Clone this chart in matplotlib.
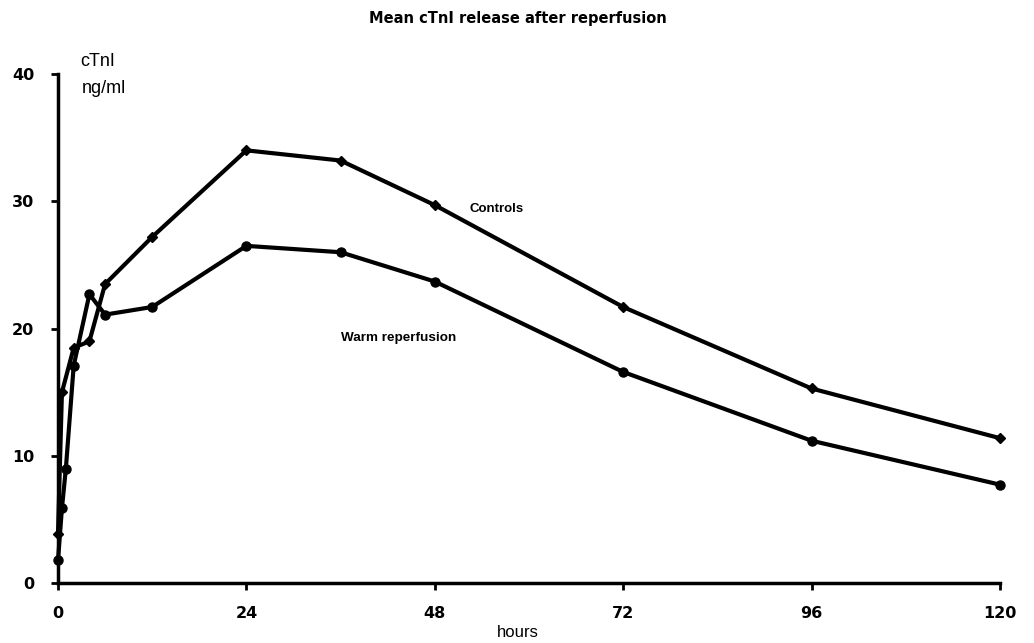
import matplotlib
matplotlib.use("Agg")
import matplotlib.pyplot as plt

# Data (hours, cTnI ng/ml)
control_hours = [0, 0.5, 2, 4, 6, 12, 24, 36, 48, 72, 96, 120]
control_vals = [3.9, 15.0, 18.5, 19.0, 23.5, 27.2, 34.0, 33.2, 29.7, 21.7, 15.3, 11.4]
warm_hours = [0, 0.5, 1, 2, 4, 6, 12, 24, 36, 48, 72, 96, 120]
warm_vals = [1.8, 5.9, 9.0, 17.1, 22.7, 21.1, 21.7, 26.5, 26.0, 23.7, 16.6, 11.2, 7.75]
x_ticks = [0, 24, 48, 72, 96, 120]
y_ticks = [0, 10, 20, 30, 40]

plt.rcParams['font.family'] = ['Liberation Sans', 'DejaVu Sans']

fig = plt.figure(figsize=(10.34, 6.43), dpi=100)
ax = fig.add_axes([0.0561, 0.0928, 0.9109, 0.7922])

ax.plot(control_hours, control_vals, color='black', lw=3.0, marker='D',
        markersize=5.5, clip_on=False, zorder=3)
ax.plot(warm_hours, warm_vals, color='black', lw=3.0, marker='o',
        markersize=6.5, clip_on=False, zorder=3)

ax.set_xlim(0, 120)
ax.set_ylim(0, 40)
ax.set_xticks(x_ticks)
ax.set_yticks(y_ticks)
for s in ['top', 'right']:
    ax.spines[s].set_visible(False)
for s in ['left', 'bottom']:
    ax.spines[s].set_linewidth(2.5)
ax.tick_params(axis='both', width=2, length=5, direction='out')
ax.tick_params(axis='y', pad=12)
ax.tick_params(axis='x', pad=11)
for lab in ax.get_xticklabels() + ax.get_yticklabels():
    lab.set_fontweight('bold')
    lab.set_fontsize(11.5)
    lab.set_family(['DejaVu Sans'])

fig.text(0.501, 0.972, 'Mean cTnI release after reperfusion', ha='center', va='center',
         fontsize=10.5, fontweight='bold', family=['DejaVu Sans'])
fig.text(0.501, 0.016, 'hours', ha='center', va='center', fontsize=12)
fig.text(0.078, 0.905, 'cTnI', ha='left', va='center', fontsize=13)
fig.text(0.079, 0.863, 'ng/ml', ha='left', va='center', fontsize=13)
fig.text(0.4545, 0.675, 'Controls', ha='left', va='center', fontsize=9.5, fontweight='bold')
fig.text(0.33, 0.474, 'Warm reperfusion', ha='left', va='center', fontsize=9.7, fontweight='bold')

fig.savefig('out.png', dpi=100, facecolor='white')
